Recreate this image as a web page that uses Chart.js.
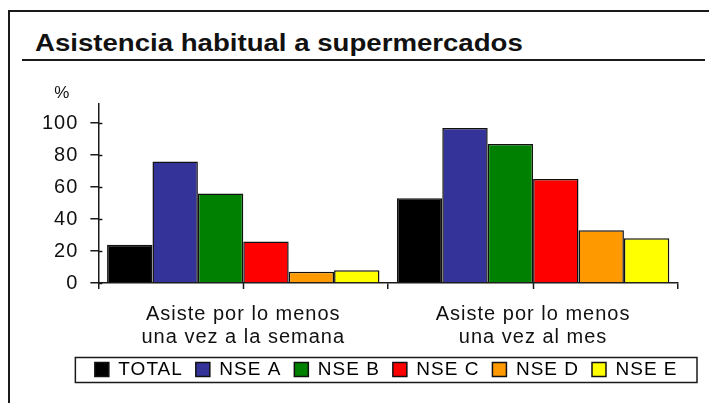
<!DOCTYPE html>
<html>
<head>
<meta charset="utf-8">
<script src="https://cdn.jsdelivr.net/npm/chart.js@4.4.0/dist/chart.umd.min.js"></script>
<style>
    body { margin: 0; background: #fff; }
    #wrap { position: relative; width: 709px; height: 403px; overflow: hidden; }
    #frame { position: absolute; left: 8px; top: 10px; width: 800px; height: 500px;
             border-left: 2px solid #1a1a1a; border-top: 2px solid #1a1a1a; }
    #title { position: absolute; left: 35px; top: 32px; font: bold 23px "Liberation Sans", Arial, sans-serif;
             line-height: 23px; color: #111; white-space: nowrap;
             transform: scaleX(1.2); transform-origin: left top; }
    #rule { position: absolute; left: 22px; top: 59px; width: 683px; height: 2px; background: #1a1a1a; }
    #chart-box { position: absolute; left: 0; top: 80px; width: 709px; height: 333px; }
</style>
</head>
<body>
<div id="wrap">
    <div id="frame"></div>
    <div id="title">Asistencia habitual a supermercados</div>
    <div id="rule"></div>
    <div id="chart-box"><canvas id="chart"></canvas></div>
</div>
<script>
    // categories and series
    const categories = [
        ['Asiste por lo menos', 'una vez a la semana'],
        ['Asiste por lo menos', 'una vez al mes']
    ];
    const series_names = ['TOTAL', 'NSE A', 'NSE B', 'NSE C', 'NSE D', 'NSE E'];
    const total = [24, 53];
    const nse_a = [76, 97];
    const nse_b = [56, 87];
    const nse_c = [26, 65];
    const nse_d = [7, 33];
    const nse_e = [8, 28];
    const y_ticks = [0, 20, 40, 60, 80, 100];

    const series_values = [total, nse_a, nse_b, nse_c, nse_d, nse_e];
    const series_colors = ['#000000', '#333399', '#008000', '#ff0000', '#ff9900', '#ffff00'];

    const font_family = '"Liberation Sans", Arial, sans-serif';
    const legend_lift = 16;

    // text in the picture is drawn a bit wide
    const spacingPlugin = {
        id: 'spacing',
        beforeUpdate(chart) { chart.ctx.letterSpacing = '1px'; },
        beforeDraw(chart) { chart.ctx.letterSpacing = '1px'; }
    };

    // "%" above the axis, extra tick marks, box around legend
    const decoPlugin = {
        id: 'deco',
        afterLayout(chart) {
            // legend box runs wider than the plot and sits a bit higher
            const lg = chart.legend;
            lg.left = chart.chartArea.left - 23;
            lg.right = chart.width - 12;
            lg.width = lg.right - lg.left;
            lg.top -= legend_lift;
            lg.bottom -= legend_lift;
        },
        afterDraw(chart) {
            const ctx = chart.ctx;
            const area = chart.chartArea;
            const x = chart.scales.x;
            const y = chart.scales.y;
            ctx.save();
            ctx.fillStyle = '#111';
            ctx.font = '17px ' + font_family;
            ctx.textAlign = 'center';
            ctx.textBaseline = 'middle';
            ctx.fillText('%', area.left - 36, area.top - 11);

            ctx.strokeStyle = '#1a1a1a';
            ctx.lineWidth = 1.5;
            for (let i = 0; i < categories.length; i++) {
                const px = Math.round(x.getPixelForValue(i)) + 0.5;
                ctx.beginPath();
                ctx.moveTo(px, area.bottom);
                ctx.lineTo(px, area.bottom + 6);
                ctx.stroke();
            }
            // y ticks cross the axis
            for (const v of y_ticks) {
                const py = Math.round(y.getPixelForValue(v)) + 0.5;
                ctx.beginPath();
                ctx.moveTo(area.left, py);
                ctx.lineTo(area.left + 4, py);
                ctx.stroke();
            }

            const lg = chart.legend;
            const hb = lg.legendHitBoxes[0];
            const mid = hb.top + hb.height / 2;
            ctx.lineWidth = 1.5;
            ctx.strokeRect(lg.left, Math.round(mid - 12.5) + 0.5, lg.right - lg.left, 25);
            ctx.restore();
        }
    };

    const datasets = [];
    for (let i = 0; i < series_names.length; i++) {
        datasets.push({
            label: series_names[i],
            data: series_values[i],
            backgroundColor: series_colors[i],
            borderColor: '#111',
            borderWidth: 1.5,
            borderSkipped: 'start',
            categoryPercentage: 0.94,
            barPercentage: 1.0
        });
    }

    const ctx = document.getElementById('chart').getContext('2d');
    new Chart(ctx, {
        type: 'bar',
        data: { labels: categories, datasets: datasets },
        plugins: [spacingPlugin, decoPlugin],
        options: {
            responsive: true,
            maintainAspectRatio: false,
            animation: false,
            layout: { padding: { left: 30, right: 31, top: 24, bottom: 8 } },
            plugins: {
                title: { display: false },
                tooltip: { enabled: false },
                legend: {
                    display: true,
                    position: 'bottom',
                    labels: {
                        color: '#111',
                        font: { family: font_family, size: 19 },
                        boxWidth: 14,
                        boxHeight: 14,
                        padding: 13,
                        generateLabels(chart) {
                            return chart.data.datasets.map((ds, i) => ({
                                text: ds.label,
                                fillStyle: ds.backgroundColor,
                                strokeStyle: '#111',
                                lineWidth: 1.5,
                                hidden: false,
                                datasetIndex: i
                            }));
                        }
                    }
                }
            },
            scales: {
                x: {
                    grid: {
                        offset: true,
                        drawOnChartArea: false,
                        drawTicks: true,
                        tickLength: 6,
                        color: '#1a1a1a',
                        lineWidth: 1.5
                    },
                    border: { display: true, color: '#1a1a1a', width: 1.5 },
                    ticks: {
                        color: '#111',
                        font: { family: font_family, size: 20, lineHeight: 1.15 },
                        padding: 14,
                        maxRotation: 0
                    }
                },
                y: {
                    min: 0,
                    max: 112,
                    grid: {
                        drawOnChartArea: false,
                        drawTicks: true,
                        tickLength: 8,
                        color: '#1a1a1a',
                        lineWidth: 1.5
                    },
                    border: { display: true, color: '#1a1a1a', width: 1.5 },
                    afterBuildTicks(axis) {
                        axis.ticks = y_ticks.map(v => ({ value: v }));
                    },
                    ticks: {
                        color: '#111',
                        font: { family: font_family, size: 20 },
                        padding: 12
                    }
                }
            }
        }
    });
</script>
</body>
</html>
